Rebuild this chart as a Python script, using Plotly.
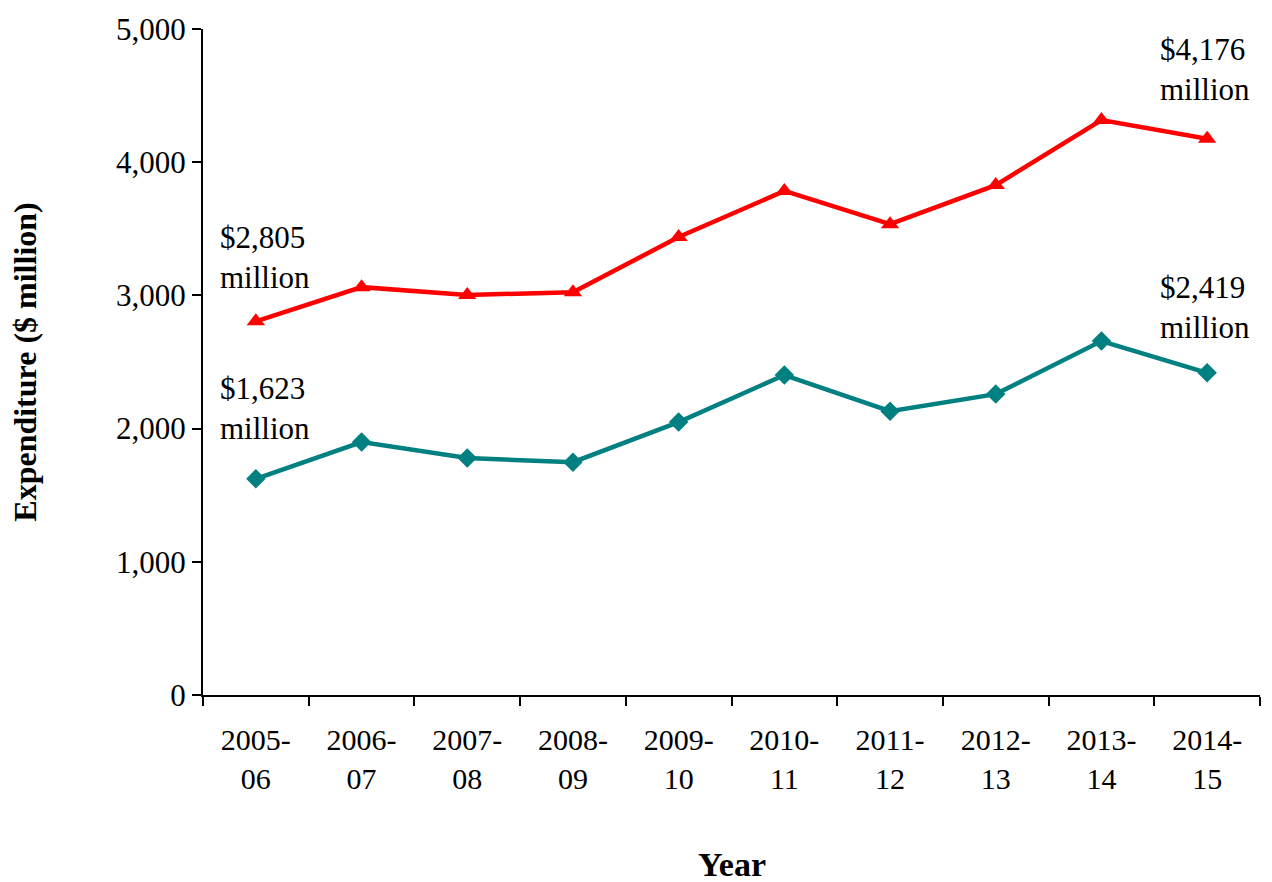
import plotly.graph_objects as go

years = ["2005-<br>06", "2006-<br>07", "2007-<br>08", "2008-<br>09", "2009-<br>10",
         "2010-<br>11", "2011-<br>12", "2012-<br>13", "2013-<br>14", "2014-<br>15"]
total_spend = [2805, 3062, 3003, 3024, 3438, 3784, 3535, 3828, 4316, 4176]
teal_spend = [1623, 1899, 1779, 1748, 2049, 2402, 2131, 2259, 2657, 2419]

FONT = "Liberation Serif"

fig = go.Figure()
fig.add_trace(go.Scatter(
    x=years, y=total_spend, mode="lines+markers",
    line=dict(color="#FF0000", width=4.5),
    marker=dict(symbol="triangle-up", size=16, color="#FF0000"),
    showlegend=False))
fig.add_trace(go.Scatter(
    x=years, y=teal_spend, mode="lines+markers",
    line=dict(color="#008080", width=4.5),
    marker=dict(symbol="diamond", size=15, color="#008080"),
    showlegend=False))

ann_style = dict(xref="x", yref="y", showarrow=False, yanchor="middle",
                 font=dict(family=FONT, size=31, color="black"))
fig.add_annotation(x=-0.36, y=3285, text="$2,805<br>million", xanchor="left", align="left", **ann_style)
fig.add_annotation(x=-0.36, y=2150, text="$1,623<br>million", xanchor="left", align="left", **ann_style)
fig.add_annotation(x=9.42, y=4695, text="$4,176<br>million", xanchor="right", align="left", **ann_style)
fig.add_annotation(x=9.42, y=2910, text="$2,419<br>million", xanchor="right", align="left", **ann_style)

# x-axis title
fig.add_annotation(xref="paper", yref="paper", x=0.5, y=-0.255, xanchor="center", yanchor="middle",
                   showarrow=False, text="<b>Year</b>", font=dict(family=FONT, size=34, color="black"))

fig.update_layout(
    width=1272, height=882,
    margin=dict(l=203, r=12, t=29, b=187),
    paper_bgcolor="white", plot_bgcolor="white",
    font=dict(family=FONT, size=31, color="black"),
)
fig.update_xaxes(
    type="category", range=[-0.5, 9.5], automargin=False,
    showline=True, linecolor="black", linewidth=2,
    ticks="outside", tickson="boundaries", ticklen=9, tickwidth=2, tickcolor="black",
    ticklabelstandoff=17,
    showgrid=False, zeroline=False,
    tickfont=dict(family=FONT, size=30),
)
fig.update_yaxes(
    range=[0, 5000], tickvals=[0, 1000, 2000, 3000, 4000, 5000], automargin=False,
    ticktext=["0", "1,000", "2,000", "3,000", "4,000", "5,000"],
    showline=True, linecolor="black", linewidth=2,
    ticks="outside", ticklen=9, tickwidth=2, tickcolor="black",
    showgrid=False, zeroline=False,
    tickfont=dict(family=FONT, size=31),
    title=dict(text="<b>Expenditure ($ million)</b>", font=dict(family=FONT, size=32), standoff=70),
)

fig.write_html("out.html")
